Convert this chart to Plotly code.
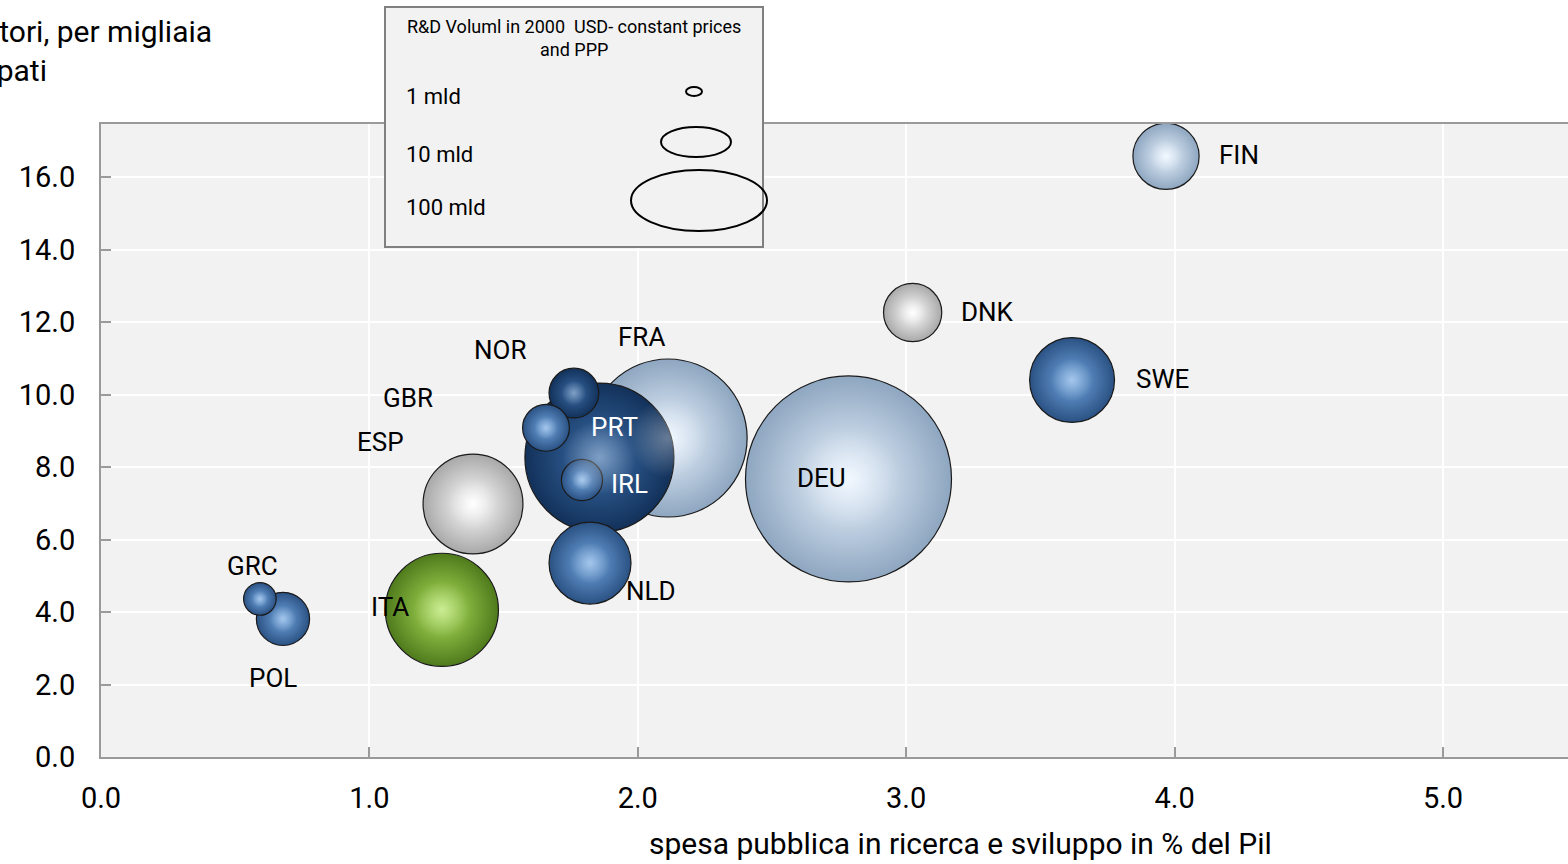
import plotly.graph_objects as go

# ---------------- data ----------------
countries = ["DEU", "FRA", "PRT", "NLD", "NOR", "GBR", "IRL", "ESP", "ITA",
             "POL", "GRC", "SWE", "DNK", "FIN"]
spesa_pil = [2.785, 2.113, 1.857, 1.822, 1.762, 1.658, 1.792, 1.386, 1.27,
             0.678, 0.592, 3.618, 3.024, 3.968]
ricercatori = [7.67, 8.80, 8.26, 5.35, 10.04, 9.08, 7.64, 6.98, 4.06,
               3.81, 4.36, 10.40, 12.26, 16.57]
rd_volume = [60.0, 35.3, 31.4, 9.5, 3.5, 3.1, 2.4, 14.1, 18.1,
             4.0, 1.5, 10.2, 4.8, 6.2]
color_group = ["light", "light", "dark", "mid", "dark", "mid", "mid", "white", "green",
               "mid", "mid", "mid", "white", "light"]

x_ticks = [0, 1, 2, 3, 4, 5]
y_ticks = [0, 2, 4, 6, 8, 10, 12, 14, 16]
legend_labels = ["1 mld", "10 mld", "100 mld"]

# ---------------- styling ----------------
W, H = 1568, 864
L, R, T, B = 101, 0, 124, 107
PW, PH = W - L - R, H - T - B
PX_PER_X = 268.4
PX_PER_Y = 36.25
FONT = "Roboto"

palette = {  # (edge colour, centre colour)
    "light": ("#8ea6c0", "#eaf4ff"),
    "dark": ("#12315a", "#3a6ca6"),
    "mid": ("#2a5183", "#73a8e2"),
    "white": ("#a8a8a8", "#ffffff"),
    "green": ("#4f7a1c", "#aee25a"),
}
edge_cols = [palette[g][0] for g in color_group]
centre_cols = [palette[g][1] for g in color_group]

# label offsets in pixels (dx right, dy down) relative to bubble centre
label_offsets = {
    "FIN": (73, -1), "DNK": (75, -1), "SWE": (90, -1), "DEU": (-27, -1),
    "FRA": (-27, -101), "PRT": (15, -31), "NOR": (-74, -43), "GBR": (-138, -30),
    "ESP": (-93, -62), "IRL": (48, 4), "NLD": (61, 28), "ITA": (-52, -3),
    "GRC": (-7, -33), "POL": (-10, 59),
}
white_labels = {"PRT", "IRL"}

max_diam = 206
sizeref = 2.0 * max(rd_volume) / (max_diam ** 2)

fig = go.Figure()
fig.add_trace(go.Scatter(
    x=spesa_pil, y=ricercatori, mode="markers", hoverinfo="text", text=countries,
    marker=dict(size=rd_volume, sizemode="area", sizeref=sizeref,
                color=edge_cols,
                gradient=dict(type="radial", color=centre_cols),
                line=dict(color="#1a1a1a", width=1.2), opacity=1),
    showlegend=False,
))
# specular highlight
fig.add_trace(go.Scatter(
    x=spesa_pil, y=ricercatori, mode="markers", hoverinfo="skip",
    marker=dict(size=rd_volume, sizemode="area", sizeref=sizeref * 4.0,
                color="rgba(255,255,255,0)",
                gradient=dict(type="radial", color="rgba(255,255,255,0.5)"),
                line=dict(width=0)),
    showlegend=False,
))

annotations = []
for c, xv, yv in zip(countries, spesa_pil, ricercatori):
    dx, dy = label_offsets[c]
    annotations.append(dict(
        x=xv, y=yv, xref="x", yref="y", text=c, showarrow=False,
        xshift=dx, yshift=-dy,
        font=dict(family=FONT, size=26, color="white" if c in white_labels else "black"),
    ))


def px_x(px):
    return (px - L) / PW


def px_y(py):
    return (H - B - py) / PH


# y axis title (cropped at left in the original)
annotations.append(dict(
    x=px_x(214), y=px_y(12), xref="paper", yref="paper", xanchor="right", yanchor="top",
    align="left", showarrow=False, text="Ricercatori, per migliaia<br>di occupati",
    font=dict(family=FONT, size=30, color="black"),
))
# x axis title
annotations.append(dict(
    x=px_x(960), y=px_y(843), xref="paper", yref="paper", xanchor="center", yanchor="middle",
    showarrow=False, text="spesa pubblica in ricerca e sviluppo in % del Pil",
    font=dict(family=FONT, size=30, color="black"),
))

# legend box
shapes = [dict(type="rect", xref="paper", yref="paper",
               x0=px_x(385), x1=px_x(763), y0=px_y(247), y1=px_y(7),
               fillcolor="#f2f2f2", line=dict(color="#808080", width=2), layer="above")]
annotations.append(dict(
    x=px_x(574), y=px_y(38), xref="paper", yref="paper", xanchor="center", yanchor="middle",
    showarrow=False, text="R&D Voluml in 2000  USD- constant prices<br>and PPP",
    font=dict(family=FONT, size=18, color="black"),
))
legend_rows_y = [97, 154, 207]
legend_ellipses = [(686, 702, 87, 96), (661, 731, 127, 157), (631, 767, 170, 231)]
for lab, ly, (ex0, ex1, ey0, ey1) in zip(legend_labels, legend_rows_y, legend_ellipses):
    annotations.append(dict(
        x=px_x(404), y=px_y(ly), xref="paper", yref="paper", xanchor="left", yanchor="middle",
        showarrow=False, text=lab, font=dict(family=FONT, size=22, color="black"),
    ))
    shapes.append(dict(type="circle", xref="paper", yref="paper",
                       x0=px_x(ex0), x1=px_x(ex1), y0=px_y(ey1), y1=px_y(ey0),
                       line=dict(color="black", width=2), fillcolor="rgba(0,0,0,0)",
                       layer="above"))

fig.update_layout(
    width=W, height=H,
    margin=dict(l=L, r=R, t=T, b=B, autoexpand=False),
    paper_bgcolor="white", plot_bgcolor="#f2f2f2",
    font=dict(family=FONT, color="black"),
    annotations=annotations, shapes=shapes,
    xaxis=dict(range=[0, PW / PX_PER_X], tickvals=x_ticks, tickformat=".1f",
               showgrid=True, gridcolor="white", gridwidth=2, zeroline=False,
               showline=True, linecolor="#9a9a9a", linewidth=2, mirror=True,
               ticks="inside", ticklen=10, tickcolor="#9a9a9a", tickwidth=2,
               tickfont=dict(family=FONT, size=29, color="black"),
               ticklabelstandoff=14, automargin=False),
    yaxis=dict(range=[0, PH / PX_PER_Y], tickvals=y_ticks, tickformat=".1f",
               showgrid=True, gridcolor="white", gridwidth=2, zeroline=False,
               showline=True, linecolor="#9a9a9a", linewidth=2,
               ticks="inside", ticklen=10, tickcolor="#9a9a9a", tickwidth=2,
               tickfont=dict(family=FONT, size=29, color="black"),
               ticklabelstandoff=18, automargin=False),
)

fig.write_html("out.html", config={"displayModeBar": False},
               post_script="document.body.style.margin='0';")
